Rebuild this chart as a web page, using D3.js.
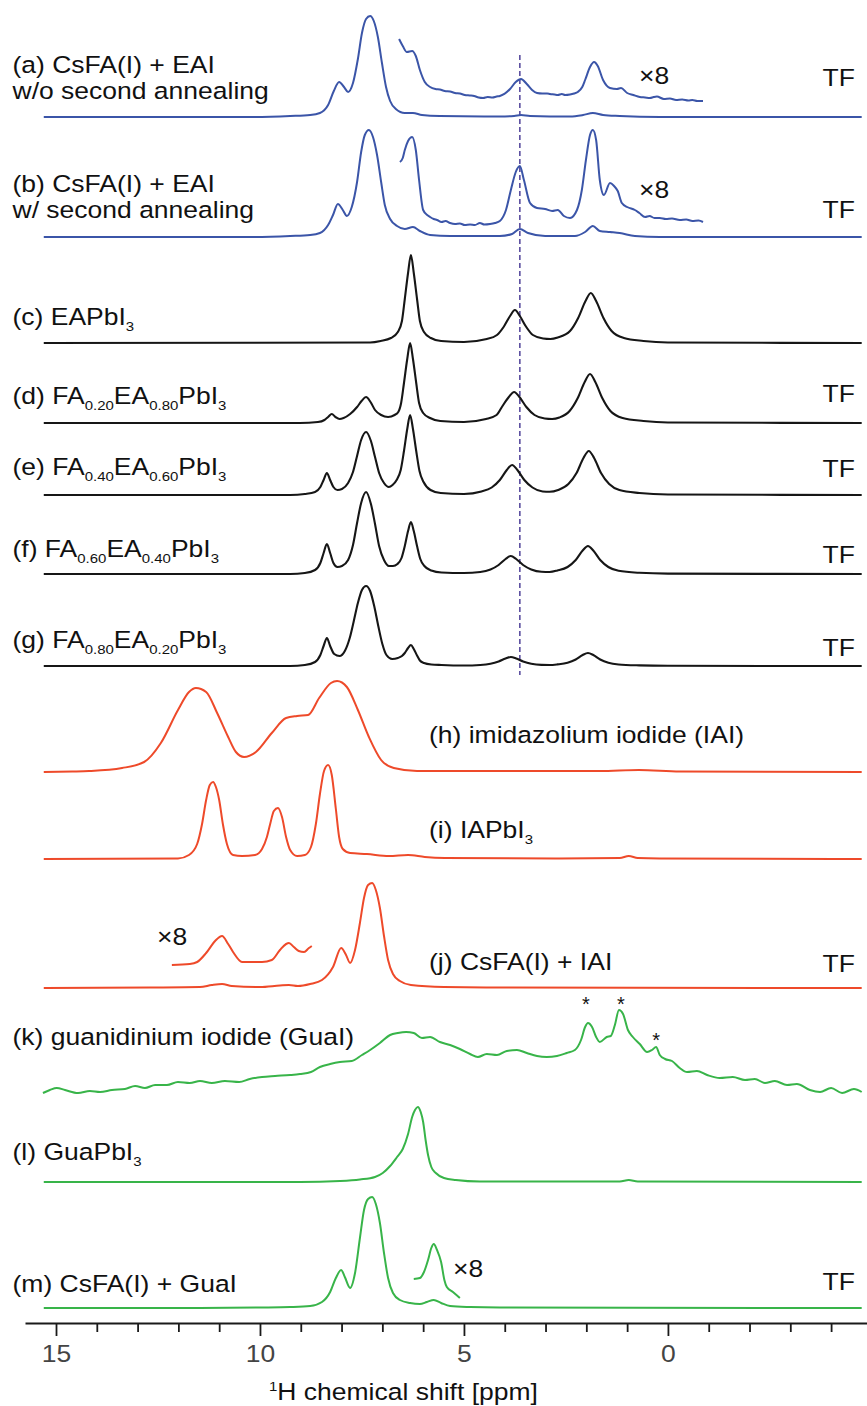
<!doctype html>
<html>
<head>
<meta charset="utf-8">
<title>1H MAS NMR stack</title>
<script src="https://d3js.org/d3.v7.min.js"></script>
<style>
  body { margin: 0; background: #fff; }
  text { font-family: "Liberation Sans", Arial, Helvetica, sans-serif; }
</style>
</head>
<body>
<div id="chart"></div>
<script>
// each spectrum: [ppm, intensity above its own baseline]
var aMain = [[15.3,0],[10.25,0],[9.26,1],[8.77,2],[8.53,4],[8.33,12],[8.19,26],[8.06,35],[7.94,30],[7.84,25],[7.72,34],[7.60,58],[7.50,84],[7.40,98],[7.30,101],[7.21,96],[7.11,80],[7.01,54],[6.91,30],[6.81,16],[6.67,8],[6.45,4],[6.25,4],[6.03,2],[5.59,1],[4.12,0.5],[3.77,1],[3.60,2],[3.38,1],[2.40,0.5],[2.08,2],[1.84,4],[1.59,2],[1.18,1],[0.2,0],[-4.75,0]];
var aInset = [[6.59,78],[6.50,71],[6.40,65],[6.27,66],[6.18,61],[6.08,47],[5.96,35],[5.83,30],[5.70,28],[5.59,27.5],[5.47,26],[5.34,25.5],[5.22,24],[5.10,23.5],[4.98,22],[4.86,21.5],[4.75,21],[4.64,19.5],[4.53,19],[4.42,20],[4.30,19.5],[4.20,20.5],[4.12,21],[3.87,28],[3.73,35],[3.60,38],[3.46,33],[3.33,27],[3.21,24],[3.08,23.5],[2.96,23.5],[2.89,23],[2.78,22.5],[2.70,22],[2.60,23],[2.52,22],[2.40,22.5],[2.30,23.5],[2.21,25],[2.10,30],[2.03,37],[1.91,50],[1.81,55],[1.72,51],[1.59,37],[1.42,29],[1.25,28],[1.15,29],[1.00,24],[0.85,22],[0.69,20],[0.56,19.5],[0.44,19],[0.35,20],[0.27,20.5],[0.10,18],[-0.05,18.5],[-0.20,17],[-0.35,17.5],[-0.50,16.5],[-0.60,17],[-0.72,16],[-0.86,16]];
var bMain = [[15.3,0],[10.25,0],[9.26,1],[8.77,2],[8.53,4],[8.33,12],[8.21,22],[8.09,33],[7.97,27],[7.87,21],[7.75,30],[7.62,55],[7.52,85],[7.43,102],[7.33,107],[7.23,100],[7.13,82],[7.03,55],[6.94,32],[6.81,18],[6.64,11],[6.45,8],[6.25,10],[6.08,6],[5.83,2],[5.34,1],[4.12,1],[3.82,3],[3.63,8],[3.43,4],[3.01,1],[2.28,1],[2.03,5],[1.84,11],[1.67,6],[1.42,5],[1.18,4],[0.81,1],[0.2,0],[-4.75,0]];
var bInset = [[6.57,75],[6.50,79],[6.45,87],[6.37,96],[6.27,100],[6.18,87],[6.10,57],[6.00,27],[5.90,22],[5.83,20],[5.74,18],[5.66,17],[5.55,15],[5.45,16],[5.34,14],[5.22,13],[5.10,13.5],[4.98,12],[4.85,12.5],[4.73,12],[4.61,14],[4.50,12.5],[4.36,13],[4.24,14],[4.12,16],[3.97,27],[3.85,47],[3.73,65],[3.63,71],[3.53,57],[3.38,34],[3.21,29],[3.01,28],[2.84,26],[2.70,27],[2.55,21],[2.40,19],[2.23,27],[2.11,47],[2.01,77],[1.91,102],[1.84,107],[1.76,97],[1.67,57],[1.57,42],[1.42,54],[1.32,51],[1.23,46],[1.13,34],[1.00,30],[0.81,27],[0.70,24],[0.56,20],[0.45,21],[0.33,19],[0.20,19],[0.05,18],[-0.10,18.5],[-0.29,17],[-0.45,17.5],[-0.60,16],[-0.75,16.5],[-0.86,15]];
var cEAPbI3 = [[15.3,0],[7.30,0.5],[7.04,2],[6.79,5],[6.62,11],[6.52,22],[6.45,44],[6.37,70],[6.30,88],[6.23,70],[6.15,44],[6.08,22],[5.98,11],[5.81,5],[5.56,2],[5.0,1],[4.44,4],[4.19,8],[4.02,16.5],[3.87,27],[3.75,33],[3.63,27],[3.48,16.5],[3.31,8],[3.06,4.5],[2.88,4],[2.70,5.5],[2.40,12],[2.20,25],[2.02,42],[1.89,50],[1.76,42],[1.58,25],[1.38,12],[1.08,5],[0.6,2],[0,0.5],[-4.75,0]];
var dFA20 = [[15.3,0],[9.02,0],[8.58,1],[8.42,3],[8.33,6],[8.24,9],[8.15,6],[8.05,4],[7.95,5],[7.79,9],[7.62,16],[7.51,22],[7.40,26],[7.29,21],[7.18,13],[7.03,8],[6.86,6],[6.70,8],[6.61,11],[6.54,20],[6.47,40],[6.39,64],[6.32,80],[6.25,64],[6.17,40],[6.10,20],[6.00,10],[5.83,5],[5.58,2],[5.0,1],[4.46,4],[4.20,8],[4.07,16],[3.90,26],[3.77,31],[3.64,26],[3.47,16],[3.27,8],[3.02,4.5],[2.84,4],[2.66,5.5],[2.41,12],[2.21,25],[2.04,41],[1.91,49],[1.78,41],[1.61,25],[1.41,12],[1.11,5],[0.6,2],[0,0.5],[-4.75,0]];
var eFA40 = [[15.3,0],[9.26,0],[8.9,1],[8.65,3],[8.52,8],[8.44,15],[8.36,22],[8.28,15],[8.20,8],[8.10,5],[7.99,6],[7.84,12],[7.72,23],[7.62,39],[7.52,55],[7.40,63],[7.28,54],[7.18,38],[7.08,22],[6.96,12],[6.84,8],[6.75,10],[6.65,15],[6.55,25],[6.47,44],[6.39,66],[6.32,80],[6.25,66],[6.17,44],[6.09,24],[5.99,13],[5.82,5],[5.57,2],[5.0,1],[4.57,3.5],[4.32,7.5],[4.12,15],[3.95,25],[3.82,30],[3.69,25],[3.52,15],[3.32,7.5],[3.07,3.5],[2.9,3.2],[2.69,5],[2.44,11],[2.24,22],[2.07,37],[1.94,44],[1.81,37],[1.64,22],[1.44,11],[1.19,5],[0.7,2],[0,0.5],[-4.75,0]];
var fFA60 = [[15.3,0],[9.26,0],[8.9,1],[8.65,4],[8.52,11],[8.44,21],[8.36,30],[8.28,21],[8.20,11],[8.10,7],[7.99,8],[7.84,14],[7.72,29],[7.62,51],[7.52,71],[7.40,82],[7.28,70],[7.18,50],[7.08,28],[6.96,14],[6.84,8],[6.74,8],[6.63,10],[6.53,16],[6.45,28],[6.37,43],[6.30,52],[6.23,43],[6.15,28],[6.07,15],[5.97,8],[5.80,3.5],[5.55,1.5],[5.0,1],[4.6,2],[4.35,4.5],[4.15,9],[3.98,15],[3.85,18],[3.72,15],[3.55,9],[3.35,4.5],[3.1,2.2],[2.9,2],[2.71,3.5],[2.46,7],[2.26,14],[2.09,23.5],[1.96,28],[1.83,23.5],[1.66,14],[1.46,7],[1.21,3.2],[0.7,1.2],[0,0.4],[-4.75,0]];
var gFA80 = [[15.3,0],[9.26,0],[8.9,1],[8.65,4],[8.52,11],[8.44,20],[8.36,28],[8.28,20],[8.18,12],[8.05,10],[7.92,15],[7.80,28],[7.70,45],[7.60,63],[7.50,76],[7.40,80],[7.30,75],[7.20,60],[7.10,40],[7.00,22],[6.90,11],[6.76,7],[6.62,8],[6.52,10],[6.45,13],[6.37,18],[6.30,21],[6.23,17],[6.15,10.5],[6.08,5.5],[5.98,3],[5.80,1.5],[5.55,1],[5.0,0.5],[4.6,1],[4.35,2.2],[4.15,4.5],[3.98,7.5],[3.85,9],[3.72,7.5],[3.55,4.5],[3.35,2.2],[3.1,1.1],[2.9,1],[2.71,1.6],[2.46,3.2],[2.26,6.5],[2.09,11],[1.96,13],[1.83,11],[1.66,6.5],[1.46,3.2],[1.21,1.5],[0.7,0.6],[0,0.2],[-4.75,0]];
var hIAI = [[15.3,0],[14.6,0.5],[14.19,1],[13.38,4],[12.84,10],[12.43,29],[12.01,62],[11.74,80],[11.57,84],[11.32,80],[11.05,59],[10.78,35],[10.59,20],[10.39,15],[10.10,20],[9.71,39],[9.36,54],[9.09,56],[8.82,57],[8.55,74],[8.26,89],[8.11,91],[7.87,85],[7.60,62],[7.33,35],[7.03,12],[6.72,4],[6.15,1],[1.67,1],[0.71,2],[-0.29,0.5],[-4.75,0]];
var iIAPbI3 = [[15.3,0],[12.01,0.5],[11.74,4],[11.54,15],[11.42,35],[11.32,59],[11.23,74],[11.15,77],[11.08,72],[11.00,59],[10.91,35],[10.81,15],[10.66,4],[10.44,3],[10.12,4],[9.95,10],[9.83,22],[9.75,35],[9.66,48],[9.56,51],[9.46,42],[9.36,22],[9.26,9],[9.09,3],[8.90,4],[8.75,12],[8.63,35],[8.53,65],[8.43,88],[8.33,94],[8.24,84],[8.14,50],[8.06,22],[7.97,10],[7.79,6],[7.38,5],[6.84,3],[6.37,4],[5.96,2],[5.47,1],[2.65,0.5],[1.18,1],[0.96,3],[0.74,1],[0.20,0.5],[-4.75,0]];
var jMain = [[15.3,0],[12.70,0.5],[11.47,1],[11.18,3],[10.93,4],[10.69,2],[10.0,1],[9.51,2.5],[9.29,3],[9.07,2],[8.77,4],[8.48,8],[8.21,21],[8.01,40],[7.89,33],[7.79,25],[7.67,38],[7.55,65],[7.45,90],[7.35,103],[7.25,105],[7.16,98],[7.06,80],[6.96,52],[6.86,28],[6.74,14],[6.57,7],[6.30,3],[5.49,1],[4.12,0.5],[-4.75,0]];
var jInset = [[12.16,23],[11.72,24],[11.54,26],[11.32,35],[11.10,47],[10.93,52],[10.78,44],[10.66,36],[10.44,26],[10.25,26],[9.95,26],[9.71,28],[9.51,38],[9.36,44],[9.29,45],[9.17,41],[9.05,37],[8.92,36],[8.80,40],[8.73,42]];
var kGuaI = [[15.32,0],[15.15,3],[14.98,5],[14.78,3],[14.46,0],[14.17,2],[13.92,1],[13.63,3],[13.31,4],[13.06,7],[12.82,5],[12.57,8],[12.28,8],[12.01,11],[11.72,10],[11.47,12],[11.18,10],[10.86,12],[10.51,11],[10.25,14],[9.95,16],[9.63,17],[9.26,18],[9.02,19],[8.75,21],[8.53,26],[8.28,29],[8.04,31],[7.75,32],[7.50,38],[7.30,43],[7.06,50],[6.81,58],[6.62,60],[6.42,61],[6.23,60],[6.03,55],[5.83,56],[5.59,51],[5.34,48],[5.10,44],[4.85,39],[4.66,36],[4.44,39],[4.19,38],[3.95,42],[3.70,43],[3.46,40],[3.21,37],[2.97,36],[2.72,37],[2.48,40],[2.28,43],[2.13,53],[2.03,66],[1.96,70],[1.86,66],[1.76,56],[1.67,51],[1.50,56],[1.40,57],[1.30,68],[1.20,83],[1.10,79],[0.98,63],[0.86,56],[0.69,49],[0.51,41],[0.39,43],[0.29,46],[0.20,38],[0.07,34],[-0.10,32],[-0.29,25],[-0.47,21],[-0.71,22],[-0.96,18],[-1.27,15],[-1.59,16],[-1.89,13],[-2.13,14],[-2.38,10],[-2.62,12],[-2.92,8],[-3.16,9],[-3.48,3],[-3.73,1],[-4.0,5],[-4.27,0],[-4.56,4],[-4.75,1]];
var lGuaPbI3 = [[15.3,0],[9.02,0],[8.04,1],[7.55,2.5],[7.18,5],[6.99,9],[6.81,16],[6.64,25],[6.50,33],[6.37,48],[6.27,65],[6.20,72],[6.13,75],[6.06,70],[6.00,60],[5.94,42],[5.88,27],[5.80,15],[5.69,9],[5.49,4],[5.2,2],[4.61,0.5],[1.18,0.5],[0.96,2],[0.74,0.5],[-4.75,0]];
var mMain = [[15.3,0],[11.47,0],[10.0,0.5],[9.26,1],[8.77,2],[8.48,6],[8.28,16],[8.14,30],[8.01,38],[7.92,31],[7.79,20],[7.67,35],[7.55,70],[7.45,98],[7.35,109],[7.25,111],[7.16,104],[7.06,85],[6.96,55],[6.86,30],[6.74,15],[6.57,8],[6.32,5],[6.08,4],[5.91,6],[5.74,8],[5.56,5],[5.34,2],[4.85,1],[4.12,0.5],[-4.75,0]];
var mInset = [[6.23,29],[6.08,30],[5.98,36],[5.88,48],[5.80,60],[5.74,64],[5.66,58],[5.56,46],[5.48,28],[5.42,21],[5.27,16],[5.10,10]];

// vertical stacking offset of each spectrum (a.u.), a..m
var stackOffsets = [1206, 1086, 980, 900, 828, 749, 657, 551, 464, 335, 230, 141, 15];

// starred peaks in (k) and the dashed reference line
var starPpm = [2.01, 1.15, 0.29];
var starLevel = [94, 94, 58];
var refLinePpm = 3.63;
var refLineSpan = [648, 1268];

// axis ticks
var majorTicks = [15, 10, 5, 0];
var minorTicks = [14, 13, 12, 11, 9, 8, 7, 6, 4, 3, 2, 1, -1, -2, -3, -4];

var width = 867, height = 1406;
var blue = '#3b55a8', black = '#161616', red = '#ee4a2a', green = '#38b449';

var svg = d3.select('#chart').append('svg')
  .attr('width', width).attr('height', height);

var x = d3.scaleLinear().domain([15.76, -4.88]).range([25, 867]);
var y = d3.scaleLinear().domain([0, 1300]).range([1323, 23]);

var traces = [
  [aMain, 0, blue], [aInset, 0, blue],
  [bMain, 1, blue], [bInset, 1, blue],
  [cEAPbI3, 2, black], [dFA20, 3, black], [eFA40, 4, black],
  [fFA60, 5, black], [gFA80, 6, black],
  [hIAI, 7, red], [iIAPbI3, 8, red], [jMain, 9, red], [jInset, 9, red],
  [kGuaI, 10, green], [lGuaPbI3, 11, green], [mMain, 12, green], [mInset, 12, green]
];

//参考虚线
svg.append('line')
  .attr('x1', x(refLinePpm)).attr('x2', x(refLinePpm))
  .attr('y1', y(refLineSpan[1])).attr('y2', y(refLineSpan[0]))
  .attr('stroke', '#5a4d9f').attr('stroke-width', 1.6)
  .attr('stroke-dasharray', '5,3');

traces.forEach(function(t){
  var off = stackOffsets[t[1]];
  var line = d3.line()
    .x(function(d){ return x(d[0]); })
    .y(function(d){ return y(off + d[1]); })
    .curve(d3.curveMonotoneX);
  svg.append('path')
    .attr('d', line(t[0]))
    .attr('fill', 'none')
    .attr('stroke', t[2])
    .attr('stroke-width', t[2] == black ? 2.1 : 2)
    .attr('stroke-linejoin', 'round');
});

// stars on (k)
svg.selectAll('.star').data(starPpm).enter().append('text')
  .attr('class', 'star')
  .attr('x', function(d){ return x(d); })
  .attr('y', function(d, i){ return y(stackOffsets[10] + starLevel[i]) + 12; })
  .attr('text-anchor', 'middle')
  .attr('font-size', 20)
  .attr('fill', '#111')
  .text('*');

// text labels, squashed a little vertically like the original
function addLabel(px, py, parts, anchor) {
  var t = svg.append('text')
    .attr('transform', 'translate(' + px + ',' + py + ') scale(1,0.88)')
    .attr('text-anchor', anchor || 'start')
    .attr('font-size', 26.5)
    .attr('fill', '#111');
  var shifted = 0;
  parts.forEach(function(p){
    var sub = Array.isArray(p);
    var s = t.append('tspan').text(sub ? p[0] : p);
    if (sub) { s.attr('font-size', 15).attr('dy', 7 - shifted); shifted = 7; }
    else if (shifted) { s.attr('dy', -shifted); shifted = 0; }
  });
}

addLabel(12.5, 73, ['(a) CsFA(I) + EAI']);
addLabel(12.5, 99, ['w/o second annealing']);
addLabel(12.5, 192, ['(b) CsFA(I) + EAI']);
addLabel(12.5, 218, ['w/ second annealing']);
addLabel(12.5, 325, ['(c) EAPbI', ['3']]);
addLabel(12.5, 404, ['(d) FA', ['0.20'], 'EA', ['0.80'], 'PbI', ['3']]);
addLabel(12.5, 475, ['(e) FA', ['0.40'], 'EA', ['0.60'], 'PbI', ['3']]);
addLabel(12.5, 557, ['(f) FA', ['0.60'], 'EA', ['0.40'], 'PbI', ['3']]);
addLabel(12.5, 648, ['(g) FA', ['0.80'], 'EA', ['0.20'], 'PbI', ['3']]);
addLabel(429, 743, ['(h) imidazolium iodide (IAI)']);
addLabel(429, 838, ['(i) IAPbI', ['3']]);
addLabel(429, 970, ['(j) CsFA(I) + IAI']);
addLabel(12.5, 1045, ['(k) guanidinium iodide (GuaI)']);
addLabel(12.5, 1160, ['(l) GuaPbI', ['3']]);
addLabel(12.5, 1292, ['(m) CsFA(I) + GuaI']);

[86, 218, 402, 477, 563, 656, 972, 1290].forEach(function(py){
  addLabel(855, py, ['TF'], 'end');
});

addLabel(639, 84, ['×8']);
addLabel(639, 198, ['×8']);
addLabel(157, 945, ['×8']);
addLabel(453, 1277, ['×8']);

// x axis
var axisG = svg.append('g').attr('transform', 'translate(0,' + y(0) + ')');
axisG.append('g')
  .call(d3.axisBottom(x).tickValues(minorTicks).tickSize(9).tickSizeOuter(0).tickFormat(''))
  .call(function(g){ g.select('.domain').attr('stroke', '#1a1a1a').attr('stroke-width', 2); })
  .call(function(g){ g.selectAll('.tick line').attr('stroke', '#1a1a1a').attr('stroke-width', 1.8); });
axisG.append('g')
  .call(d3.axisBottom(x).tickValues(majorTicks).tickSize(13).tickSizeOuter(0).tickFormat(d3.format('d')))
  .call(function(g){ g.select('.domain').remove(); })
  .call(function(g){ g.selectAll('.tick line').attr('stroke', '#1a1a1a').attr('stroke-width', 1.8); })
  .call(function(g){
    g.selectAll('.tick text')
      .attr('y', null).attr('dy', null)
      .attr('transform', 'translate(0,39) scale(1,0.88)')
      .attr('font-size', 26.5)
      .attr('font-family', '"Liberation Sans", Arial, sans-serif')
      .attr('fill', '#444');
  });

// axis title
var title = svg.append('text')
  .attr('transform', 'translate(269,1400) scale(1,0.88)')
  .attr('font-size', 26.5)
  .attr('fill', '#111');
title.append('tspan').attr('font-size', 15).attr('dy', -10).text('1');
title.append('tspan').attr('dy', 10).text('H chemical shift [ppm]');
</script>
</body>
</html>
